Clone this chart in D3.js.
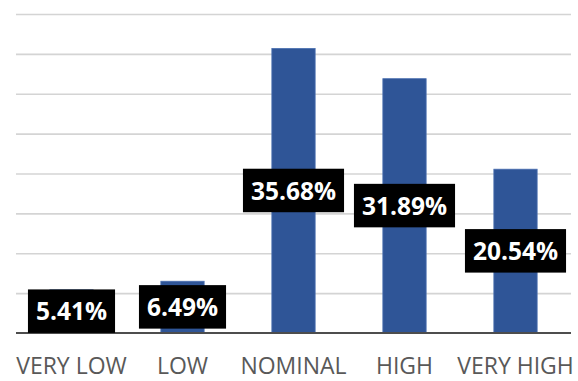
<!DOCTYPE html>
<html>
<head>
<meta charset="utf-8">
<script src="https://cdn.jsdelivr.net/npm/d3@7"></script>
<style>
  html, body { margin: 0; padding: 0; background: #fff; }
  svg { display: block; }
</style>
</head>
<body>
<svg id="chart" width="578" height="381"></svg>
<script>
// Share of ratings per level
const categories = ["VERY LOW", "LOW", "NOMINAL", "HIGH", "VERY HIGH"];
const values = [5.41, 6.49, 35.68, 31.89, 20.54];
const gridTicks = [5, 10, 15, 20, 25, 30, 35, 40];

const svg = d3.select("#chart");
const plotLeft = 16, plotRight = 571, plotTop = 14, baseline = 333;

const x = d3.scaleBand()
  .domain(categories)
  .range([plotLeft, plotRight])
  .paddingInner(0.61)
  .paddingOuter(0.305);

const y = d3.scaleLinear()
  .domain([0, 40])
  .range([baseline, plotTop]);

// horizontal gridlines
svg.append("g")
  .attr("transform", `translate(${plotLeft},0)`)
  .call(d3.axisLeft(y).tickValues(gridTicks).tickSize(-(plotRight - plotLeft)).tickFormat(""))
  .call(g => g.select(".domain").remove())
  .call(g => g.selectAll(".tick line")
    .attr("stroke", "#d4d4d4")
    .attr("stroke-width", 1.6));

// bars
svg.append("g").selectAll("rect")
  .data(values)
  .join("rect")
  .attr("x", (d, i) => x(categories[i]))
  .attr("width", x.bandwidth())
  .attr("y", d => y(d))
  .attr("height", d => y(0) - y(d))
  .attr("fill", "#2f5597")
  .attr("stroke", "#4a6fb0")
  .attr("stroke-width", 0.8);

// category axis
svg.append("g")
  .attr("transform", `translate(0,${baseline})`)
  .call(d3.axisBottom(x).tickSize(0).tickPadding(25))
  .call(g => g.select(".domain")
    .attr("stroke", "#4d4d4d")
    .attr("stroke-width", 2.2)
    .attr("d", `M${plotLeft},0H${plotRight}`))
  .call(g => g.selectAll(".tick text")
    .attr("fill", "#595959")
    .attr("font-family", "'Open Sans', sans-serif")
    .attr("font-size", 23)
    .attr("dy", "0.71em"));

// value labels, centred on each bar
const fmt = d => d3.format(".2f")(d) + "%";
const labels = svg.append("g").selectAll("g")
  .data(values)
  .join("g")
  .attr("transform", (d, i) =>
    `translate(${x(categories[i]) + x.bandwidth() / 2},${(y(0) + y(d)) / 2})`);

labels.append("text")
  .text(fmt)
  .attr("text-anchor", "middle")
  .attr("dy", "0.36em")
  .attr("fill", "#fff")
  .attr("font-family", "'Open Sans', sans-serif")
  .attr("font-weight", "bold")
  .attr("font-size", 24.5)
  .each(function () {
    const b = this.getBBox();
    d3.select(this.parentNode).insert("rect", "text")
      .attr("x", b.x - 8)
      .attr("y", -22)
      .attr("width", b.width + 16)
      .attr("height", 43.5)
      .attr("fill", "#000");
  });
</script>
</body>
</html>
